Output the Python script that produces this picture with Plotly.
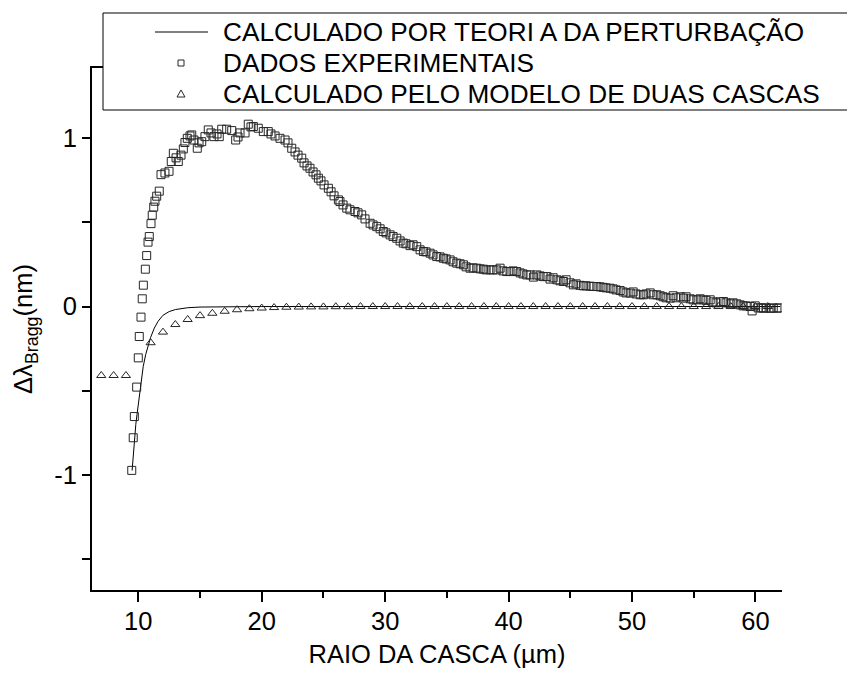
import plotly.graph_objects as go

# Shell radius (um) and Bragg wavelength shift (nm)
exp_x = [9.47, 9.59, 9.68, 9.87, 10.0, 10.08, 10.22, 10.32, 10.41, 10.57, 10.68, 10.79, 10.89,
         11.03, 11.13, 11.25, 11.35, 11.49, 11.70, 11.84, 12.16, 12.49, 12.67, 12.84, 13.06,
         13.24, 13.46, 13.65, 13.78, 13.97, 14.19, 14.33, 14.51, 14.78, 14.92, 15.14, 15.40,
         15.67, 15.89, 16.13, 16.38, 16.56, 16.76, 17.16, 17.57, 17.89, 18.08, 18.24, 18.65,
         18.91, 19.13, 19.32, 19.72, 20.13, 20.53, 20.75, 21.08, 21.48, 21.89, 22.13, 22.43,
         22.70, 22.94, 23.24, 23.43, 23.67, 23.91, 24.16, 24.40, 24.59, 24.80, 25.05, 25.40,
         25.62, 25.86, 26.21, 26.34, 26.59, 26.89, 27.15, 27.56, 27.80, 28.10, 28.37, 28.78,
         29.02, 29.32, 29.59, 29.85, 30.07, 30.40, 30.64, 30.94, 31.21, 31.47, 31.69, 32.02,
         32.26, 32.56, 32.83, 33.10, 33.31, 33.64, 33.88, 34.18, 34.45, 34.72, 34.94, 35.26,
         35.50, 35.80, 36.07, 36.34, 36.56, 36.88, 37.12, 37.42, 37.69, 37.96, 38.18, 38.50,
         38.74, 39.04, 39.31, 39.55, 39.85, 40.12, 40.36, 40.66, 40.93, 41.17, 41.47, 41.74,
         42.01, 42.29, 42.55, 42.80, 43.10, 43.36, 43.61, 43.91, 44.17, 44.44, 44.66, 44.98,
         45.25, 45.47, 45.79, 46.06, 46.28, 46.60, 46.85, 47.15, 47.41, 47.66, 47.90, 48.22,
         48.47, 48.71, 49.04, 49.28, 49.52, 49.85, 50.09, 50.33, 50.66, 50.92, 51.14, 51.47,
         51.71, 52.01, 52.28, 52.52, 52.76, 53.09, 53.33, 53.57, 53.90, 54.17, 54.38, 54.71,
         54.95, 55.25, 55.52, 55.76, 56.00, 56.33, 56.57, 56.81, 57.14, 57.41, 57.62, 57.95,
         58.19, 58.49, 58.76, 59.00, 59.25, 59.57, 59.73, 59.98, 60.22, 60.46, 60.65, 60.87,
         61.20, 61.44, 61.74, 61.92]
exp_y = [-0.974, -0.780, -0.654, -0.479, -0.305, -0.178, -0.063, 0.046, 0.127, 0.222, 0.303,
         0.383, 0.416, 0.493, 0.543, 0.591, 0.626, 0.656, 0.686, 0.784, 0.794, 0.804, 0.862,
         0.911, 0.884, 0.862, 0.900, 0.937, 0.975, 1.000, 1.014, 1.020, 0.990, 0.941, 0.973,
         0.980, 1.010, 1.050, 1.032, 1.010, 1.026, 1.010, 1.054, 1.054, 1.046, 0.990, 1.008,
         1.032, 1.032, 1.084, 1.068, 1.070, 1.060, 1.040, 1.040, 1.026, 1.014, 1.000, 0.990,
         0.973, 0.941, 0.919, 0.900, 0.882, 0.854, 0.836, 0.822, 0.800, 0.783, 0.763, 0.747,
         0.723, 0.703, 0.682, 0.658, 0.634, 0.624, 0.604, 0.585, 0.575, 0.565, 0.557, 0.545,
         0.521, 0.495, 0.485, 0.475, 0.462, 0.446, 0.438, 0.426, 0.416, 0.406, 0.390, 0.377,
         0.373, 0.362, 0.367, 0.356, 0.337, 0.327, 0.325, 0.317, 0.307, 0.297, 0.295, 0.287,
         0.283, 0.277, 0.266, 0.258, 0.254, 0.248, 0.236, 0.228, 0.230, 0.228, 0.224, 0.222,
         0.218, 0.218, 0.218, 0.218, 0.228, 0.212, 0.208, 0.208, 0.212, 0.208, 0.200, 0.194,
         0.188, 0.188, 0.175, 0.188, 0.182, 0.178, 0.178, 0.163, 0.171, 0.159, 0.153, 0.149,
         0.159, 0.141, 0.129, 0.135, 0.126, 0.123, 0.123, 0.121, 0.119, 0.119, 0.117, 0.114,
         0.111, 0.109, 0.105, 0.099, 0.095, 0.087, 0.081, 0.080, 0.087, 0.075, 0.070, 0.070,
         0.075, 0.081, 0.070, 0.070, 0.064, 0.058, 0.052, 0.050, 0.064, 0.052, 0.058, 0.050,
         0.058, 0.046, 0.040, 0.040, 0.046, 0.040, 0.037, 0.040, 0.028, 0.022, 0.028, 0.030,
         0.022, 0.016, 0.022, 0.016, 0.010, 0.004, 0.004, 0.000, -0.026, 0.004, -0.008, -0.008,
         -0.010, -0.008, -0.011, -0.008, -0.010, -0.008]

theory_x = [9.50, 9.60, 9.70, 9.80, 9.90, 10.0, 10.2, 10.4, 10.6, 10.8, 11.0, 11.3, 11.6,
            12.0, 12.5, 13.0, 14.0, 15.0, 17.0, 20.0, 25.0, 30.0, 40.0, 50.0, 62.0]
theory_y = [-0.975, -0.870, -0.780, -0.700, -0.640, -0.580, -0.460, -0.356, -0.285, -0.225,
            -0.183, -0.128, -0.088, -0.052, -0.030, -0.018, -0.007, -0.003, -0.001, 0.0,
            0.0, 0.0, 0.0, 0.0, 0.0]

shell_x = [7, 8, 9, 11, 12, 13, 14, 15, 16, 17, 18, 19, 20, 21, 22, 23, 24, 25, 26, 27, 28,
           29, 30, 31, 32, 33, 34, 35, 36, 37, 38, 39, 40, 41, 42, 43, 44, 45, 46, 47, 48,
           49, 50, 51, 52, 53, 54, 55, 56, 57, 58, 59, 60, 61]
shell_y = [-0.410, -0.410, -0.410, -0.215, -0.152, -0.107, -0.077, -0.054, -0.040, -0.028,
           -0.019, -0.013, -0.009, -0.006, -0.004, -0.003, -0.002, -0.002, -0.001, -0.001,
           0.0, 0.0, 0.0, 0.0, 0.0, 0.0, 0.0, 0.0, 0.0, 0.0, 0.0, 0.0, 0.0, 0.0, 0.0, 0.0,
           0.0, 0.0, 0.0, 0.0, 0.0, 0.0, 0.0, 0.0, 0.0, 0.0, 0.0, 0.0, 0.0, 0.0, 0.0, 0.0,
           0.0, 0.0]

x_ticks = [10, 20, 30, 40, 50, 60]
y_ticks = [-1, 0, 1]
y_tick_text = ["-1", "0", "1"]

legend_labels = ["CALCULADO POR TEORI A DA PERTURBAÇÃO",
                 "DADOS EXPERIMENTAIS",
                 "CALCULADO PELO MODELO DE DUAS CASCAS"]

# ---- page geometry (pixels) ----
W, H = 847, 673
ML, MR, MT, MB = 92, 65, 68, 83
PW, PH = W - ML - MR, H - MT - MB
FONT = "Liberation Sans, Arial, sans-serif"
FS = 25.5
FS_LEGEND = 26.2


def px(x):
    return (x - ML) / PW


def py(y):
    return (H - MB - y) / PH


fig = go.Figure()
fig.add_trace(go.Scatter(x=theory_x, y=theory_y, mode="lines",
                         line=dict(color="black", width=1), name=legend_labels[0]))
fig.add_trace(go.Scatter(x=exp_x, y=exp_y, mode="markers", name=legend_labels[1],
                         marker=dict(symbol="square-open", size=8,
                                     color="#262626", line=dict(width=1))))
fig.add_trace(go.Scatter(x=shell_x, y=shell_y, mode="markers", name=legend_labels[2],
                         marker=dict(symbol="triangle-up-open", size=8,
                                     color="#262626", line=dict(width=1))))

y_range = [-1.685, 1.418]
right_ticks = [1.110, 0.799, 0.487, 0.175, -0.137, -0.449, -0.761, -1.073, -1.385]

fig.update_layout(
    width=W, height=H, showlegend=False,
    margin=dict(l=ML, r=MR, t=MT, b=MB, autoexpand=False),
    paper_bgcolor="white", plot_bgcolor="white",
    font=dict(family=FONT, size=FS, color="black"),
    xaxis=dict(range=[6.25, 62.15], showgrid=False, zeroline=False, automargin=False,
               showline=True, linecolor="black", linewidth=2, mirror=True,
               tickmode="array", tickvals=x_ticks, ticks="outside", ticklen=10,
               tickwidth=1.5, tickcolor="black", ticklabelstandoff=-3,
               minor=dict(dtick=5, tick0=0, ticks="outside", ticklen=6,
                          tickwidth=1.5, tickcolor="black"),
               tickfont=dict(size=FS),
               title=dict(text="RAIO DA CASCA (µm)", font=dict(size=FS), standoff=12)),
    yaxis=dict(range=y_range, showgrid=False, zeroline=False, automargin=False,
               showline=True, linecolor="black", linewidth=2,
               tickmode="array", tickvals=y_ticks, ticktext=y_tick_text,
               ticks="outside", ticklen=8, tickwidth=1.5, tickcolor="black",
               minor=dict(dtick=0.5, tick0=0, ticks="outside", ticklen=8,
                          tickwidth=1.5, tickcolor="black"),
               tickfont=dict(size=FS),
               title=dict(text="Δλ<sub>Bragg</sub>(nm)", font=dict(size=FS), standoff=14)),
    yaxis2=dict(range=y_range, overlaying="y", side="right", anchor="x", automargin=False,
                showgrid=False, zeroline=False, showline=True, linecolor="black",
                linewidth=2, tickmode="array", tickvals=right_ticks, ticks="inside",
                ticklen=10, tickwidth=1.5, tickcolor="black", showticklabels=False),
)

# legend box drawn on top of the frame
legend_top, legend_bottom, legend_left = 13, 110, 103
fig.add_shape(type="rect", xref="paper", yref="paper",
              x0=px(legend_left), x1=px(W + 5), y0=py(legend_bottom), y1=py(legend_top),
              line=dict(color="black", width=1), fillcolor="white", layer="above")

row_y = [32, 63, 94]
text_x = 221
sym_x = 181
fig.add_shape(type="line", xref="paper", yref="paper",
              x0=px(155), x1=px(208), y0=py(row_y[0]), y1=py(row_y[0]),
              line=dict(color="black", width=1), layer="above")
s = 3
fig.add_shape(type="rect", xref="paper", yref="paper",
              x0=px(sym_x - s), x1=px(sym_x + s), y0=py(row_y[1] + s), y1=py(row_y[1] - s),
              line=dict(color="#262626", width=1), fillcolor="rgba(0,0,0,0)", layer="above")
tri = "M {:.4f} {:.4f} L {:.4f} {:.4f} L {:.4f} {:.4f} Z".format(
    px(sym_x), py(row_y[2] - 4), px(sym_x - 4), py(row_y[2] + 3), px(sym_x + 4), py(row_y[2] + 3))
fig.add_shape(type="path", xref="paper", yref="paper", path=tri,
              line=dict(color="#262626", width=1), layer="above")

for label, ry in zip(legend_labels, row_y):
    fig.add_annotation(text=label, xref="paper", yref="paper", x=px(text_x), y=py(ry),
                       xanchor="left", yanchor="middle", showarrow=False,
                       font=dict(family=FONT, size=FS_LEGEND, color="black"))

fig.write_html("out.html")
